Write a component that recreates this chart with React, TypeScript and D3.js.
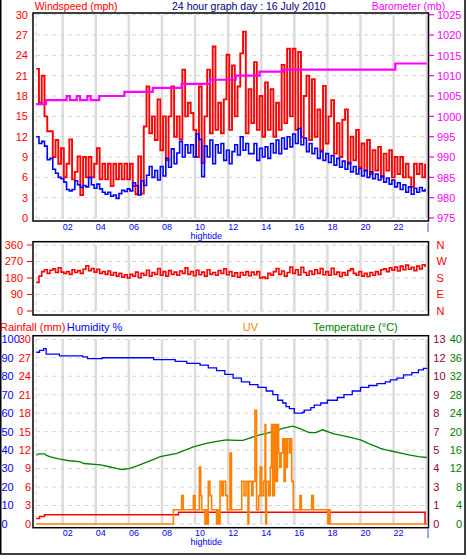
import React from 'react';
import * as d3 from 'd3';

// ---------- data ----------
const WIND_START = 0.4; // hour of first sample
const WIND_STEP = 1 / 6; // 10 minute samples

const windGust = [
  22, 17, 21, 15, 12.8, 12.8, 9, 11.5, 8, 10.3, 6, 8, 11.6, 5.7, 6.8, 9.1, 3.4, 9, 6, 9,
  6, 8, 10.3, 5.7, 8, 5.7, 8, 4.7, 8, 5.7, 8, 5.7, 8, 5.7, 8, 4.7, 3.5, 9.1, 3.6, 13.5,
  19.4, 12.5, 15, 11.5, 17.5, 10, 15, 8.5, 15, 19.4, 12, 15, 11.6, 21.9, 15, 17, 15.5, 13, 9, 19.4,
  8.1, 15, 21.9, 12.5, 25.3, 13, 17, 12.5, 17.5, 24.1, 13, 22.5, 15, 19.4, 24.3, 27.5, 12.5, 19, 14, 23,
  13, 18, 12, 20, 13, 19, 12, 17, 13, 22.6, 14, 25, 15, 25, 13, 24.5, 12, 18, 21, 11.5,
  20.5, 12, 16, 10, 19.5, 11, 15, 17.4, 9.5, 14, 9, 14.5, 16, 8, 12, 8.5, 13, 7.5, 11, 7,
  11.5, 6.5, 10, 7, 10.5, 6, 9.5, 7, 10, 6, 9, 6.5, 9, 6, 8, 6, 4.6, 8, 6.5, 8,
  6, 8,
];

const windAvg = [
  12, 11, 11.3, 10.6, 8.6, 8.8, 7.2, 6.6, 6, 5.8, 5.3, 4.2, 4, 4.2, 5.5, 4.9, 4.5, 4.8, 4.6, 6,
  4.9, 4.4, 5, 4.3, 3.8, 3.5, 3.8, 3.2, 3.4, 2.9, 3.6, 4.1, 3.9, 4.3, 4, 5.2, 4.8, 3.4, 5.5, 4.8,
  6.3, 7.6, 6, 7, 5.6, 7.6, 6.2, 8.8, 7.5, 10.2, 8, 9.6, 11.3, 9, 10.8, 9.6, 10.8, 9, 12.4, 11.6,
  6.1, 10.6, 9, 11.5, 8, 10.8, 9.6, 11, 8.5, 10, 8, 9.8, 10.8, 9.3, 12, 10, 11, 9.5, 9.5, 11,
  8.5, 10.3, 9, 10.5, 8.8, 11, 9.6, 11.5, 9.5, 11.8, 10.2, 12, 10.5, 12.4, 11, 13.2, 10.8, 11.8, 9.8, 11,
  9.5, 10.3, 8.8, 9.8, 8.5, 9.5, 8.2, 9.2, 7.8, 8.8, 7.5, 8.4, 7.2, 8.2, 6.8, 7.6, 6.5, 7.3, 6.2, 7,
  6, 6.8, 5.8, 6.5, 5.6, 6.2, 5.3, 5.9, 5, 5.6, 4.6, 5.2, 4.2, 4.9, 3.8, 4.6, 3.5, 4.4, 3.8, 4.5,
  4, 4.3,
];

const windDir = [
  156, 190, 215, 225, 205, 222, 230, 210, 236, 212, 205, 215, 200, 225, 210, 220, 205, 228, 247, 220,
  232, 212, 228, 205, 215, 200, 218, 195, 210, 190, 205, 185, 198, 180, 200, 190, 212, 182, 205, 195,
  222, 190, 210, 200, 232, 195, 215, 190, 220, 200, 212, 195, 218, 205, 235, 200, 215, 192, 222, 198,
  212, 190, 225, 200, 210, 195, 220, 205, 230, 198, 215, 190, 208, 185, 210, 195, 215, 192, 212, 198,
  215, 180, 185, 178, 205, 195, 215, 232, 200, 218, 190, 210, 240, 205, 225, 196, 238, 210, 195, 218,
  200, 225, 205, 232, 198, 215, 195, 233, 200, 212, 188, 210, 195, 220, 230, 205, 195, 215, 190, 205,
  188, 210, 195, 215, 200, 225, 230, 215, 235, 222, 240, 218, 245, 225, 250, 228, 238, 220, 245, 230,
  252, 240,
];

const baroTimes = [0.4, 0.99, 2.24, 2.44, 2.85, 3.05, 3.49, 3.69, 4.21, 5.73, 7.44, 9.19, 10.9, 12.46, 13.9, 15.3, 22.1, 24];
const baroValues = [1003, 1004, 1005, 1004, 1005, 1004, 1005, 1004, 1005, 1006, 1007, 1008, 1009, 1010, 1011, 1011.5, 1013, 1013];

const humTimes = [0.4, 0.6, 0.85, 1.0, 1.8, 3.2, 3.5, 4.4, 7.5, 8.8, 9.5, 10.3, 10.8, 11.3, 11.8, 12.3, 12.8, 13.3, 13.8, 14.3, 14.7, 15.0, 15.3, 15.5, 15.7, 16.0, 16.5, 16.6, 17.0, 17.2, 17.6, 18.0, 18.6, 19.0, 19.5, 20.0, 20.5, 21.0, 21.5, 21.8, 22.2, 22.6, 23.1, 23.5, 23.8, 24];
const humValues = [93, 94, 95, 92, 91, 90.5, 89.5, 90, 89, 88, 87, 86, 84.5, 83, 81, 79, 77, 75.5, 74, 72, 70, 67, 65.5, 63.5, 62.5, 60, 60.5, 61.7, 63, 64.4, 65.5, 67, 68.5, 70, 72, 74, 75, 76, 77, 78, 79, 80.7, 82, 83.4, 84.3, 84.5];

const tempTimes = [0.4, 0.55, 0.9, 1.0, 1.2, 1.75, 2.4, 3.0, 3.3, 4.3, 4.8, 5.3, 5.6, 6.0, 6.5, 7.0, 7.5, 7.9, 8.9, 9.9, 10.5, 10.9, 11.5, 11.9, 12.5, 12.9, 13.3, 13.9, 14.5, 15.3, 15.9, 16.3, 16.9, 17.3, 17.7, 18.4, 19.2, 20.0, 20.5, 21.0, 21.2, 21.6, 22.0, 22.5, 23.0, 23.5, 24];
const tempValues = [14.9, 15.2, 15.2, 14.9, 14.6, 14.1, 13.7, 13.5, 13.1, 12.8, 12.4, 12.0, 11.8, 12.0, 12.6, 13.3, 14.0, 14.6, 15.3, 16.7, 17.3, 17.6, 18.0, 18.2, 18.1, 18.1, 18.6, 19.3, 19.8, 20.7, 21.2, 20.7, 19.8, 19.8, 20.4, 19.5, 18.9, 18.2, 17.4, 16.7, 16.4, 16.0, 15.7, 15.3, 14.9, 14.6, 14.4];

const rainTimes = [0.4, 0.6, 0.9, 9.0, 23.9, 24];
const rainValues = [0.9, 1.2, 1.5, 1.9, 0, 0];

const uvTimes = [0.4, 8.69, 9.19, 9.29, 9.9, 10.0, 10.26, 10.34, 10.4, 10.6, 10.64, 10.68, 10.72, 10.76, 10.8, 10.9, 11.0, 11.3, 11.34, 11.38, 11.42, 11.46, 11.51, 11.62, 11.71, 11.85, 11.95, 12.11, 12.2, 12.82, 12.96, 13.08, 13.2, 13.25, 13.42, 13.5, 13.62, 13.72, 13.85, 13.93, 14.03, 14.15, 14.23, 14.27, 14.32, 14.45, 14.55, 14.62, 14.7, 14.8, 14.9, 14.98, 15.05, 15.12, 15.2, 15.3, 15.38, 15.45, 15.52, 15.58, 15.7, 15.75, 15.84, 15.94, 16.34, 16.42, 17.05, 17.15, 18.03, 18.06, 18.09, 18.12, 18.16, 24];
const uvValues = [0, 1, 2, 1, 2, 1, 4, 2, 1, 0, 1, 0, 1, 0, 3, 2, 1, 0, 1, 0, 1, 0, 3, 2, 3, 2, 1, 5, 1, 3, 2, 3, 0, 3, 2, 3, 8, 1, 2, 4, 2, 3, 7, 0, 3, 2, 4, 7, 2, 7, 3, 7, 5, 4, 5, 6, 3, 6, 4, 6, 5, 6, 3, 1, 2, 1, 2, 1, 0, 1, 0, 1, 0, 0];

const hourGrid = [2, 4, 6, 8, 10, 12, 14, 16, 18, 20, 22, 24];
const hourLabels = ['02', '04', '06', '08', '10', '12', '14', '16', '18', '20', '22', '|'];
const windTicks = [0, 3, 6, 9, 12, 15, 18, 21, 24, 27, 30];
const baroTicks = [975, 980, 985, 990, 995, 1000, 1005, 1010, 1015, 1020, 1025];
const dirTicks = [0, 90, 180, 270, 360];
const dirLetters = ['N', 'E', 'S', 'W', 'N'];
const humTicks = [0, 10, 20, 30, 40, 50, 60, 70, 80, 90, 100];
const rainTicks = [0, 3, 6, 9, 12, 15, 18, 21, 24, 27, 30];
const uvTickLabels = ['0', '1', '3', '4', '5', '7', '8', '9', '10', '12', '13'];
const tempTicks = [0, 4, 8, 12, 16, 20, 24, 28, 32, 36, 40];
const HIGHTIDE_HOUR = 9.9;

const FONT = '"Liberation Sans", Arial, sans-serif';

export default function App() {
  const x = d3.scaleLinear().domain([2, 24]).range([62.7, 426.7]);
  const yWind = d3.scaleLinear().domain([0, 30]).range([218, 14.7]);
  const yBaro = d3.scaleLinear().domain([975, 1025]).range([218, 14.7]);
  const yDir = d3.scaleLinear().domain([0, 360]).range([311, 245]);
  const yHum = d3.scaleLinear().domain([0, 100]).range([524, 339.3]);
  const yRain = d3.scaleLinear().domain([0, 30]).range([524, 339.3]);
  const yUV = d3.scaleLinear().domain([0, 13]).range([524, 339.3]);
  const yTemp = d3.scaleLinear().domain([0, 40]).range([524, 339.3]);

  const innerLeft = 36;
  const innerRight = 426.7;

  const windT = windGust.map((_, i) => WIND_START + i * WIND_STEP);
  const mk = (ts: number[], vs: number[], ys: (v: number) => number, curve: d3.CurveFactory) =>
    d3.line<number>().x((_, i) => x(ts[i])).y((d) => ys(d)).curve(curve)(vs) || '';

  const gustPath = mk(windT, windGust, yWind, d3.curveStepAfter);
  const avgPath = mk(windT, windAvg, yWind, d3.curveStepAfter);
  const dirPath = mk(windT, windDir, yDir, d3.curveStepAfter);
  const baroPath = mk(baroTimes, baroValues, yBaro, d3.curveStepAfter);
  const humPath = mk(humTimes, humValues, yHum, d3.curveStepAfter);
  const tempPath = mk(tempTimes, tempValues, yTemp, d3.curveLinear);
  const rainPath = mk(rainTimes, rainValues, yRain, d3.curveStepAfter);
  const uvPath = mk(uvTimes, uvValues, yUV, d3.curveStepAfter);

  const grid = (ys: number[], yTop: number, yBot: number) => (
    <g>
      {hourGrid.map((h) => (
        <line key={'v' + h} x1={x(h)} x2={x(h)} y1={yTop} y2={yBot} stroke="#dcdcdc" strokeWidth={2.5} />
      ))}
      <line x1={innerLeft} x2={innerLeft} y1={yTop} y2={yBot} stroke="#d4d4d4" strokeWidth={1} strokeDasharray="4,4" />
      {ys.map((y, i) => (
        <line key={'h' + i} x1={innerLeft} x2={innerRight} y1={y} y2={y} stroke="#d4d4d4" strokeWidth={1} strokeDasharray="4,4" />
      ))}
    </g>
  );

  const xLabels = (yc: number, tideY: number) => (
    <g fontFamily={FONT} fontSize={9} fill="#0000ff">
      {hourGrid.map((h, i) => (
        <text key={h} x={x(h)} y={yc} dy="0.35em" textAnchor="start">{hourLabels[i]}</text>
      ))}
      <text x={x(HIGHTIDE_HOUR) - 3} y={tideY} dy="0.35em" fontSize={9}>hightide</text>
    </g>
  );

  return (
    <div style={{ position: 'absolute', left: 0, top: 0, width: 467, height: 559, background: '#fff' }}>
      <svg width={467} height={559} style={{ display: 'block' }}>
        <rect x={0} y={0} width={467} height={559} fill="#fff" />
        {/* outer frame */}
        <path d="M0.75,0 V554 H465 V0" fill="none" stroke="#000" strokeWidth={1.5} />

        {/* ---------- TOP PANEL ---------- */}
        {grid(windTicks.map((v) => yWind(v)), 14.7, 218)}
        <text x={34.7} y={9.5} fontFamily={FONT} fontSize={10.5} fill="#ff0000">Windspeed (mph)</text>
        <text x={248.8} y={9.5} fontFamily={FONT} fontSize={10.5} fill="#000080" textAnchor="middle">24 hour graph day : 16 July 2010</text>
        <text x={371.7} y={9.5} fontFamily={FONT} fontSize={10.5} fill="#ff00ff">Barometer (mb)</text>
        <g fontFamily={FONT} fontSize={11} fill="#ff0000">
          {windTicks.map((v) => (
            <text key={v} x={28} y={yWind(v)} dy="0.35em" textAnchor="end">{v}</text>
          ))}
        </g>
        <g fontFamily={FONT} fontSize={11} fill="#ff00ff">
          {baroTicks.map((v) => (
            <g key={v}>
              <line x1={429} x2={434} y1={yBaro(v)} y2={yBaro(v)} stroke="#ff00ff" strokeWidth={1.2} />
              <text x={437} y={yBaro(v) + 0.5} dy="0.35em">{v}</text>
            </g>
          ))}
        </g>
        <path d={gustPath} fill="none" stroke="#ff0000" strokeWidth={1.9} />
        <path d={avgPath} fill="none" stroke="#0000ff" strokeWidth={1.6} />
        <path d={baroPath} fill="none" stroke="#ff00ff" strokeWidth={2.2} />
        <rect x={33} y={13} width={395.5} height={208} fill="none" stroke="#000" strokeWidth={1.5} />
        {xLabels(227, 236)}

        {/* ---------- MIDDLE PANEL ---------- */}
        {grid(dirTicks.map((v) => yDir(v)), 245, 311)}
        <g fontFamily={FONT} fontSize={11} fill="#ff0000">
          {dirTicks.map((v) => (
            <g key={v}>
              <text x={23} y={yDir(v)} dy="0.35em" textAnchor="end">{v}</text>
              <line x1={27} x2={32} y1={yDir(v)} y2={yDir(v)} stroke="#ff0000" strokeWidth={1} />
            </g>
          ))}
          {dirTicks.map((v, i) => (
            <text key={'l' + v} x={436.5} y={yDir(v)} dy="0.35em">{dirLetters[i]}</text>
          ))}
        </g>
        <path d={dirPath} fill="none" stroke="#ff0000" strokeWidth={1.6} />
        <rect x={33} y={241.7} width={395.5} height={73.3} fill="none" stroke="#000" strokeWidth={1.5} />

        {/* ---------- BOTTOM PANEL ---------- */}
        {grid(humTicks.map((v) => yHum(v)), 339.3, 524)}
        <g fontFamily={FONT} fontSize={11}>
          <text x={0} y={331} fill="#ff0000">Rainfall (mm)</text>
          <text x={66.7} y={331} fill="#0000ff">Humidity %</text>
          <text x={242.7} y={331} fill="#ff8000">UV</text>
          <text x={313.3} y={331} fill="#008000">Temperature (°C)</text>
        </g>
        <g fontFamily={FONT} fontSize={11}>
          {humTicks.map((v) => (
            <text key={'h' + v} x={1.5} y={yHum(v)} dy="0.35em" fill="#0000ff">{v}</text>
          ))}
          {rainTicks.map((v) => (
            <text key={'r' + v} x={31} y={yRain(v)} dy="0.35em" fill="#ff0000" textAnchor="end">{v}</text>
          ))}
          {uvTickLabels.map((s, i) => (
            <text key={'u' + i} x={433.3} y={yUV((13 * i) / 10)} dy="0.35em" fill="#990033">{s}</text>
          ))}
          {tempTicks.map((v) => (
            <text key={'t' + v} x={462} y={yTemp(v)} dy="0.35em" fill="#008000" textAnchor="end">{v}</text>
          ))}
        </g>
        <path d={tempPath} fill="none" stroke="#008000" strokeWidth={1.3} />
        <path d={humPath} fill="none" stroke="#0000ff" strokeWidth={1.3} />
        <path d={rainPath} fill="none" stroke="#ff0000" strokeWidth={1.5} />
        <path d={uvPath} fill="none" stroke="#ff8000" strokeWidth={1.6} />
        <rect x={33} y={335.7} width={395.5} height={192} fill="none" stroke="#000" strokeWidth={1.5} />
        {xLabels(533, 541.5)}
      </svg>
    </div>
  );
}
